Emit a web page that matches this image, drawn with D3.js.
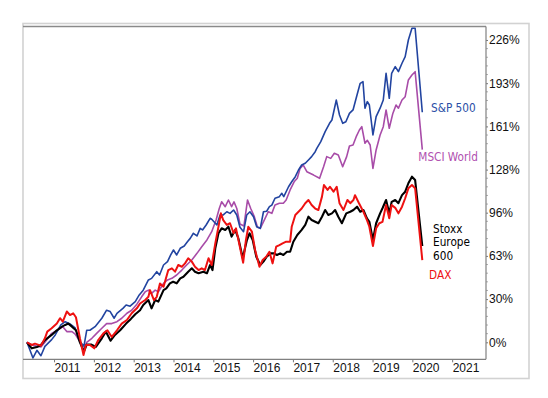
<!DOCTYPE html>
<html>
<head>
<meta charset="utf-8">
<script src="https://cdn.jsdelivr.net/npm/d3@7"></script>
<style>
  html, body { margin: 0; padding: 0; background: #fff; }
  svg { display: block; }
  .axis text { font-family: "Liberation Sans", Arial, sans-serif; font-size: 12px; fill: #111; }
  .lbl { font-family: "DejaVu Sans Condensed", "DejaVu Sans", sans-serif; font-stretch: condensed; font-size: 11.7px; }
</style>
</head>
<body>
<div id="chart"></div>
<script>
// performance since spring 2010, %, [year, value]
const sp500 = [[2010.32,0],[2010.47,-11.7],[2010.57,-6],[2010.67,-10],[2010.77,-3],[2010.94,2],[2011.03,5.5],[2011.17,13],[2011.28,15.4],[2011.40,13.7],[2011.53,10.7],[2011.65,0.5],[2011.75,-3],[2011.82,9],[2011.90,9],[2012.03,11.7],[2012.20,18],[2012.32,24],[2012.41,23],[2012.51,18],[2012.58,21.7],[2012.73,25.4],[2012.81,27.9],[2012.91,27],[2013.04,30.4],[2013.14,35.4],[2013.24,39],[2013.37,46.6],[2013.45,47.8],[2013.58,52.8],[2013.65,50.3],[2013.75,57.8],[2013.85,60.3],[2013.93,65.3],[2014.00,69],[2014.08,65.3],[2014.17,70.3],[2014.27,72],[2014.35,75.2],[2014.42,77.7],[2014.50,81.5],[2014.59,79.5],[2014.67,85.2],[2014.73,84],[2014.82,87.7],[2014.92,92.7],[2014.96,92],[2015.09,87.7],[2015.17,95.2],[2015.25,95.2],[2015.34,97.6],[2015.42,96.4],[2015.51,98.9],[2015.59,95.2],[2015.67,86],[2015.76,82.7],[2015.84,95.2],[2015.92,97.6],[2016.01,93.9],[2016.09,86.4],[2016.18,85.2],[2016.26,97.6],[2016.34,98],[2016.41,101.4],[2016.47,102.6],[2016.55,107.7],[2016.66,108.9],[2016.72,111.4],[2016.77,108.9],[2016.89,116.3],[2016.97,120],[2017.06,123.8],[2017.14,128.8],[2017.22,132.5],[2017.31,133.8],[2017.39,136.3],[2017.47,138.8],[2017.56,142.5],[2017.60,145],[2017.70,150],[2017.81,157.5],[2017.92,163.7],[2017.98,166.2],[2018.09,181.1],[2018.17,169.9],[2018.25,163.7],[2018.33,164.9],[2018.42,171.1],[2018.51,173.7],[2018.61,184.9],[2018.69,193.6],[2018.76,194.8],[2018.81,175],[2018.87,179.9],[2018.92,177.4],[2019.01,155],[2019.09,168.7],[2019.19,175],[2019.27,181.1],[2019.34,201.1],[2019.42,182.4],[2019.48,201.1],[2019.57,206.1],[2019.65,202.3],[2019.74,208.6],[2019.82,213.5],[2019.90,226],[2019.99,234.8],[2020.07,234.8],[2020.25,172]];

const msciWorld = [[2010.32,0],[2010.44,-2],[2010.67,-3.5],[2010.77,0],[2010.94,6.7],[2011.12,9.7],[2011.22,11.7],[2011.32,8],[2011.45,8],[2011.53,6.2],[2011.64,1],[2011.74,-5.8],[2011.82,0],[2011.95,3],[2012.07,6.7],[2012.20,10.5],[2012.32,14],[2012.45,14],[2012.58,15.4],[2012.70,18],[2012.83,21.7],[2012.95,24],[2013.08,28.5],[2013.20,34],[2013.29,37.8],[2013.37,39],[2013.45,36.6],[2013.54,39],[2013.62,37.8],[2013.75,44],[2013.85,46.6],[2013.96,47.8],[2014.08,50.3],[2014.21,54],[2014.33,57.8],[2014.46,61.5],[2014.59,66.5],[2014.71,71.5],[2014.84,76.5],[2014.96,82.7],[2015.07,91.4],[2015.15,100],[2015.21,105],[2015.30,101.4],[2015.38,106.4],[2015.46,101.4],[2015.52,105],[2015.59,100],[2015.67,88.5],[2015.77,87],[2015.86,106.4],[2015.94,100],[2016.03,93.9],[2016.11,86],[2016.18,85.2],[2016.28,91.4],[2016.38,97.6],[2016.47,96.4],[2016.55,102.6],[2016.66,104],[2016.76,104],[2016.83,106.4],[2016.93,113.9],[2017.03,120],[2017.11,122.6],[2017.18,130],[2017.26,132.5],[2017.35,127.5],[2017.52,125],[2017.67,122.6],[2017.77,131.3],[2017.85,138.8],[2017.95,137.5],[2018.04,141.3],[2018.14,140],[2018.25,131.3],[2018.35,138.8],[2018.42,146.8],[2018.51,147.5],[2018.59,153.7],[2018.67,158.7],[2018.73,161.2],[2018.81,148.8],[2018.87,151],[2018.94,147.5],[2019.01,130],[2019.09,143.8],[2019.19,155],[2019.27,161.2],[2019.34,173.7],[2019.42,160],[2019.51,171.1],[2019.59,177.4],[2019.65,175],[2019.74,181.1],[2019.82,183.6],[2019.90,196.1],[2019.99,199.8],[2020.07,202.3],[2020.25,144]];

const stoxx600 = [[2010.32,0],[2010.44,-4.5],[2010.57,-3.5],[2010.67,-2],[2010.77,1.7],[2010.94,5.5],[2011.07,9],[2011.20,11.7],[2011.28,13],[2011.36,14],[2011.45,11.7],[2011.55,9],[2011.65,0],[2011.75,-7],[2011.82,-1.7],[2011.94,-1.7],[2012.05,-3.5],[2012.20,3],[2012.30,8],[2012.42,1.2],[2012.53,5.5],[2012.66,9],[2012.81,14],[2012.93,17.5],[2013.04,21],[2013.16,24],[2013.24,27.9],[2013.37,31.6],[2013.45,25.4],[2013.54,31.6],[2013.62,30.4],[2013.75,39],[2013.82,40.3],[2013.91,44],[2013.99,45.3],[2014.08,44.1],[2014.17,47.8],[2014.25,49],[2014.37,52.8],[2014.46,55.3],[2014.54,52.8],[2014.63,51.6],[2014.75,52.8],[2014.84,51.6],[2014.92,57.8],[2014.98,54],[2015.05,70.3],[2015.13,81.5],[2015.21,85.2],[2015.30,84],[2015.38,86.4],[2015.46,79],[2015.55,84],[2015.63,77.7],[2015.74,63],[2015.84,76],[2015.91,81.5],[2015.99,76.5],[2016.08,64],[2016.18,57.8],[2016.26,60.3],[2016.34,64],[2016.44,66.5],[2016.52,66.5],[2016.60,65.3],[2016.68,66.5],[2016.76,65.3],[2016.85,67.7],[2016.93,67.7],[2017.01,75.2],[2017.11,80.2],[2017.22,84],[2017.31,87.7],[2017.39,93.9],[2017.47,91.4],[2017.56,90.1],[2017.64,89],[2017.73,93.9],[2017.81,98.9],[2017.89,95.2],[2017.98,96.4],[2018.06,98.9],[2018.14,93.9],[2018.23,89],[2018.34,96.4],[2018.44,97.6],[2018.52,98.9],[2018.61,101.4],[2018.69,97.6],[2018.77,98.9],[2018.86,92.7],[2018.92,90.1],[2019.01,76.5],[2019.09,89],[2019.19,96.4],[2019.25,100.2],[2019.34,106.4],[2019.42,96.4],[2019.48,105],[2019.57,106.4],[2019.65,104],[2019.74,110],[2019.82,112.6],[2019.90,118.9],[2019.99,123.8],[2020.07,121.3],[2020.25,72]];

const dax = [[2010.32,0],[2010.44,-2],[2010.52,-1],[2010.67,-2.5],[2010.77,3],[2010.83,8],[2010.94,10.5],[2011.07,14],[2011.15,18],[2011.22,15.4],[2011.32,23],[2011.40,20.4],[2011.48,21.7],[2011.55,18.7],[2011.65,3],[2011.74,-9.5],[2011.80,-2],[2011.90,-2],[2012.01,-4.5],[2012.11,1.7],[2012.24,6.7],[2012.34,9],[2012.45,4],[2012.58,9],[2012.70,14],[2012.83,16.7],[2012.95,21.7],[2013.08,25.4],[2013.16,29],[2013.29,31.6],[2013.37,34],[2013.41,39],[2013.51,31.6],[2013.58,34],[2013.66,44],[2013.75,41.5],[2013.87,54],[2013.96,55.3],[2014.04,52.8],[2014.12,57.8],[2014.21,56.5],[2014.29,59],[2014.37,62.8],[2014.46,60.3],[2014.54,56.5],[2014.63,54],[2014.71,55.3],[2014.79,54],[2014.88,62.8],[2014.96,57.8],[2015.05,74],[2015.13,86.4],[2015.19,96.4],[2015.25,91.4],[2015.34,87.7],[2015.42,89],[2015.51,81.5],[2015.57,85.2],[2015.67,71],[2015.75,59.5],[2015.82,76.5],[2015.88,86.4],[2015.97,82.7],[2016.05,69],[2016.16,56.5],[2016.24,61.5],[2016.33,64],[2016.41,67.7],[2016.49,59],[2016.58,71.5],[2016.66,72.7],[2016.74,74],[2016.83,75.2],[2016.93,75.2],[2016.97,86.4],[2017.06,95.2],[2017.14,97.6],[2017.22,100],[2017.31,104],[2017.39,106.4],[2017.47,102.6],[2017.56,100],[2017.64,98.9],[2017.73,108.9],[2017.78,117.6],[2017.87,113.9],[2017.93,116.3],[2018.02,112.6],[2018.10,116.3],[2018.17,104],[2018.27,98.9],[2018.37,106.4],[2018.44,104],[2018.52,106.4],[2018.56,110],[2018.65,104.5],[2018.77,97.6],[2018.86,91.4],[2018.92,86.4],[2019.01,72],[2019.09,85.2],[2019.17,89],[2019.25,90],[2019.34,102.6],[2019.42,92.7],[2019.48,102.6],[2019.57,100.5],[2019.65,96.4],[2019.74,101.4],[2019.82,107.7],[2019.90,115.1],[2019.99,117.6],[2020.07,115.1],[2020.25,61.5]];

const xTickYears = [2011, 2012, 2013, 2014, 2015, 2016, 2017, 2018, 2019, 2020, 2021];
const yTickValues = [0, 32.3, 64.6, 96.9, 129.1, 161.4, 193.7, 226];
const yTickLabels = ["0%", "30%", "63%", "96%", "128%", "161%", "193%", "226%"];

// draw order: purple, blue, black, red on top
const series = [
  { data: msciWorld, color: "#a84ca8", width: 1.6 },
  { data: sp500, color: "#2244a0", width: 1.6 },
  { data: stoxx600, color: "#000000", width: 2.1 },
  { data: dax, color: "#ee1111", width: 2 }
];

// end labels, anchored in data units
const labels = [
  { lines: ["S&P 500"], color: "#2a4ea6", t: 2020.47, v: 175 },
  { lines: ["MSCI World"], color: "#b050b0", t: 2020.15, v: 138.5 },
  { lines: ["Stoxx", "Europe", "600"], color: "#000000", t: 2020.52, v: 85 },
  { lines: ["DAX"], color: "#ee1111", t: 2020.42, v: 50.5 }
];

const W = 548, H = 398;
const plot = { left: 23, right: 486, top: 27, bottom: 359.3 };

const x = d3.scaleLinear().domain([2010.22, 2021.85]).range([plot.left, plot.right]);
const y = d3.scaleLinear().domain([-12.7, 235.7]).range([plot.bottom, plot.top]);

const svg = d3.select("#chart").append("svg")
  .attr("width", W)
  .attr("height", H);

svg.append("rect").attr("width", W).attr("height", H).attr("fill", "#fff");

// outer chart frame
svg.append("rect")
  .attr("x", 23).attr("y", 23.5)
  .attr("width", 506).attr("height", 355)
  .attr("fill", "none")
  .attr("stroke", "#d2d2d2")
  .attr("stroke-width", 1.6);

// plot top border
svg.append("line")
  .attr("x1", plot.left).attr("x2", plot.right)
  .attr("y1", 26.5).attr("y2", 26.5)
  .attr("stroke", "#8a8a8a").attr("stroke-width", 1.3);

// lines
const line = d3.line()
  .x(d => x(d[0]))
  .y(d => y(d[1]));

series.forEach(s => {
  svg.append("path")
    .datum(s.data)
    .attr("fill", "none")
    .attr("stroke", s.color)
    .attr("stroke-width", s.width)
    .attr("stroke-linejoin", "round")
    .attr("d", line);
});

// right y axis
let yAxis = d3.axisRight(y)
  .tickValues(yTickValues)
  .tickSize(2)
  .tickPadding(1)
  .tickFormat((d, i) => yTickLabels[i]);

let gy = svg.append("g")
  .attr("class", "axis")
  .attr("transform", "translate(" + plot.right + ",0)")
  .call(yAxis);
gy.select(".domain").remove();
gy.selectAll(".tick line").attr("stroke", "#777");

// minor ticks between the major ones
let minor = [];
for (let i = 0; i < yTickValues.length - 1; i++) {
  let step = (yTickValues[i + 1] - yTickValues[i]) / 5;
  for (let k = 1; k < 5; k++) minor.push(yTickValues[i] + k * step);
}
svg.append("g").selectAll("line")
  .data(minor)
  .join("line")
  .attr("x1", plot.right).attr("x2", plot.right + 2)
  .attr("y1", d => y(d)).attr("y2", d => y(d))
  .attr("stroke", "#999").attr("stroke-width", 0.8);

svg.append("line")
  .attr("x1", plot.right).attr("x2", plot.right)
  .attr("y1", plot.top - 0.5).attr("y2", plot.bottom)
  .attr("stroke", "#808080").attr("stroke-width", 1.2);

// bottom x axis, labels sit right of each year tick
let xAxis = d3.axisBottom(x)
  .tickValues(xTickYears)
  .tickSize(3)
  .tickFormat(d3.format("d"));

let gx = svg.append("g")
  .attr("class", "axis")
  .attr("transform", "translate(0," + plot.bottom + ")")
  .call(xAxis);
gx.select(".domain").remove();
gx.selectAll(".tick line").attr("stroke", "#777");
gx.selectAll(".tick text")
  .attr("text-anchor", "start")
  .attr("x", 0)
  .attr("y", 4);

svg.append("line")
  .attr("x1", plot.left).attr("x2", plot.right)
  .attr("y1", plot.bottom).attr("y2", plot.bottom)
  .attr("stroke", "#808080").attr("stroke-width", 1.2);

// series labels
labels.forEach(l => {
  let t = svg.append("text")
    .attr("class", "lbl")
    .attr("fill", l.color)
    .attr("x", x(l.t))
    .attr("y", y(l.v));
  l.lines.forEach((s, i) => {
    t.append("tspan")
      .attr("x", x(l.t))
      .attr("dy", i === 0 ? "0.36em" : "13.5")
      .text(s);
  });
});
</script>
</body>
</html>
